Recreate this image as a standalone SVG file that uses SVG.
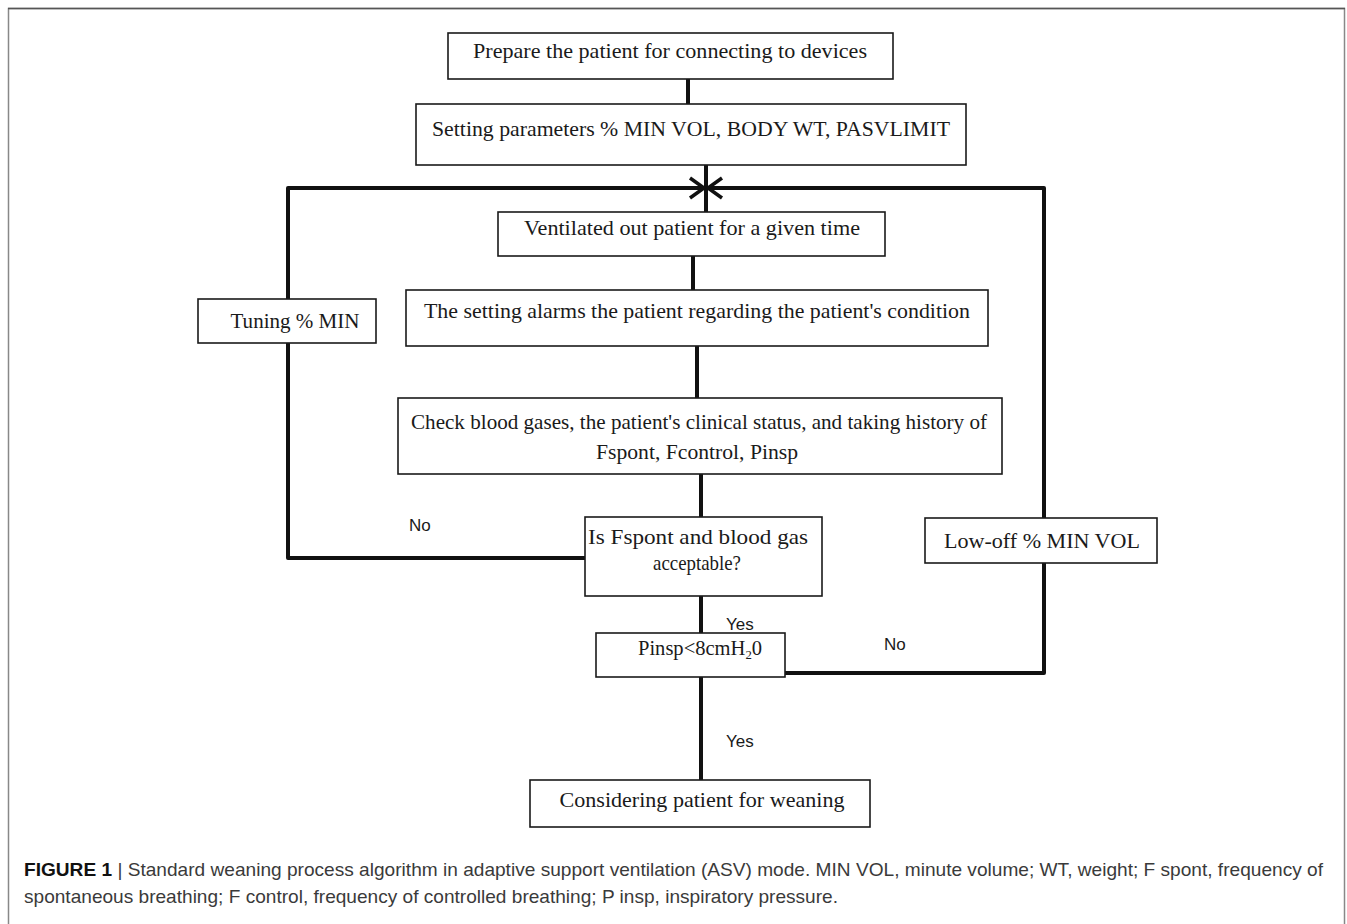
<svg xmlns="http://www.w3.org/2000/svg" width="1347" height="924" viewBox="0 0 1347 924">
<style>
.box{fill:#fff;stroke:#1a1a1a;stroke-width:1.6}
.t{font-family:"Liberation Serif",serif;font-size:21px;fill:#1a1a1a;text-anchor:middle}
.lbl{font-family:"Liberation Sans",sans-serif;font-size:17px;fill:#1a1a1a}
.c{fill:none;stroke:#111;stroke-width:4;stroke-linejoin:round}
.cap{font-family:"Liberation Sans",sans-serif;font-size:19px;fill:#3a3a3a}
</style>
<defs>
<marker id="chev" markerUnits="userSpaceOnUse" markerWidth="20" markerHeight="24" refX="16" refY="12" orient="auto">
<path d="M2,2 L16,12 L2,22" fill="none" stroke="#111" stroke-width="3.5"/>
</marker>
</defs>
<rect x="8.5" y="8.5" width="1336" height="940" fill="#fff" stroke="#888" stroke-width="1.5"/>
<line x1="8" y1="8.5" x2="1345" y2="8.5" stroke="#555" stroke-width="1.5"/>
<g id="connectors">
<line class="c" x1="688" y1="79" x2="688" y2="104"/>
<line class="c" x1="706" y1="165" x2="706" y2="212"/>
<polyline class="c" points="288,299 288,188 704,188" marker-end="url(#chev)"/>
<polyline class="c" points="1044,518 1044,188 708,188" marker-end="url(#chev)"/>
<line class="c" x1="693" y1="256" x2="693" y2="290"/>
<polyline class="c" points="288,343 288,558 585,558"/>
<line class="c" x1="697" y1="346" x2="697" y2="398"/>
<line class="c" x1="701" y1="474" x2="701" y2="517"/>
<line class="c" x1="701" y1="596" x2="701" y2="633"/>
<polyline class="c" points="785,673 1044,673 1044,563"/>
<line class="c" x1="701" y1="677" x2="701" y2="780"/>
<text class="lbl" x="409" y="531">No</text>
<text class="lbl" x="726" y="630">Yes</text>
<text class="lbl" x="884" y="650">No</text>
<text class="lbl" x="726" y="747">Yes</text>
</g>
<g id="n1"><rect class="box" x="448" y="33" width="445" height="46"/>
<text class="t" x="670" y="58" textLength="394" lengthAdjust="spacingAndGlyphs">Prepare the patient for connecting to devices</text></g>
<g id="n2"><rect class="box" x="416" y="104" width="550" height="61"/>
<text class="t" x="691" y="136" textLength="518" lengthAdjust="spacingAndGlyphs">Setting parameters % MIN VOL, BODY WT, PASVLIMIT</text></g>
<g id="n3"><rect class="box" x="498" y="212" width="387" height="44"/>
<text class="t" x="692" y="235" textLength="336" lengthAdjust="spacingAndGlyphs">Ventilated out patient for a given time</text></g>
<g id="n4"><rect class="box" x="406" y="290" width="582" height="56"/>
<text class="t" x="697" y="318" textLength="546" lengthAdjust="spacingAndGlyphs">The setting alarms the patient regarding the patient's condition</text></g>
<g id="n5"><rect class="box" x="198" y="299" width="178" height="44"/>
<text class="t" x="295" y="328" textLength="129" lengthAdjust="spacingAndGlyphs">Tuning % MIN</text></g>
<g id="n6"><rect class="box" x="398" y="398" width="604" height="76"/>
<text class="t" x="699" y="429" textLength="576" lengthAdjust="spacingAndGlyphs">Check blood gases, the patient's clinical status, and taking history of</text>
<text class="t" x="697" y="459" textLength="202" lengthAdjust="spacingAndGlyphs">Fspont, Fcontrol, Pinsp</text></g>
<g id="n7"><rect class="box" x="585" y="517" width="237" height="79"/>
<text class="t" x="698" y="544" textLength="220" lengthAdjust="spacingAndGlyphs">Is Fspont and blood gas</text>
<text class="t" x="697" y="570" textLength="88" lengthAdjust="spacingAndGlyphs">acceptable?</text></g>
<g id="n8"><rect class="box" x="925" y="518" width="232" height="45"/>
<text class="t" x="1042" y="548" textLength="196" lengthAdjust="spacingAndGlyphs">Low-off % MIN VOL</text></g>
<g id="n9"><rect class="box" x="596" y="633" width="189" height="44"/>
<text class="t" x="700" y="655" textLength="124" lengthAdjust="spacingAndGlyphs">Pinsp&lt;8cmH<tspan font-size="13" dy="4">2</tspan><tspan dy="-4">0</tspan></text></g>
<g id="n10"><rect class="box" x="530" y="780" width="340" height="47"/>
<text class="t" x="702" y="807" textLength="285" lengthAdjust="spacingAndGlyphs">Considering patient for weaning</text></g>
<text class="cap" x="24" y="876" textLength="1299" lengthAdjust="spacingAndGlyphs"><tspan font-weight="bold" fill="#111">FIGURE 1</tspan> | Standard weaning process algorithm in adaptive support ventilation (ASV) mode. MIN VOL, minute volume; WT, weight; F spont, frequency of</text>
<text class="cap" x="24" y="903" textLength="814" lengthAdjust="spacingAndGlyphs">spontaneous breathing; F control, frequency of controlled breathing; P insp, inspiratory pressure.</text>
</svg>
